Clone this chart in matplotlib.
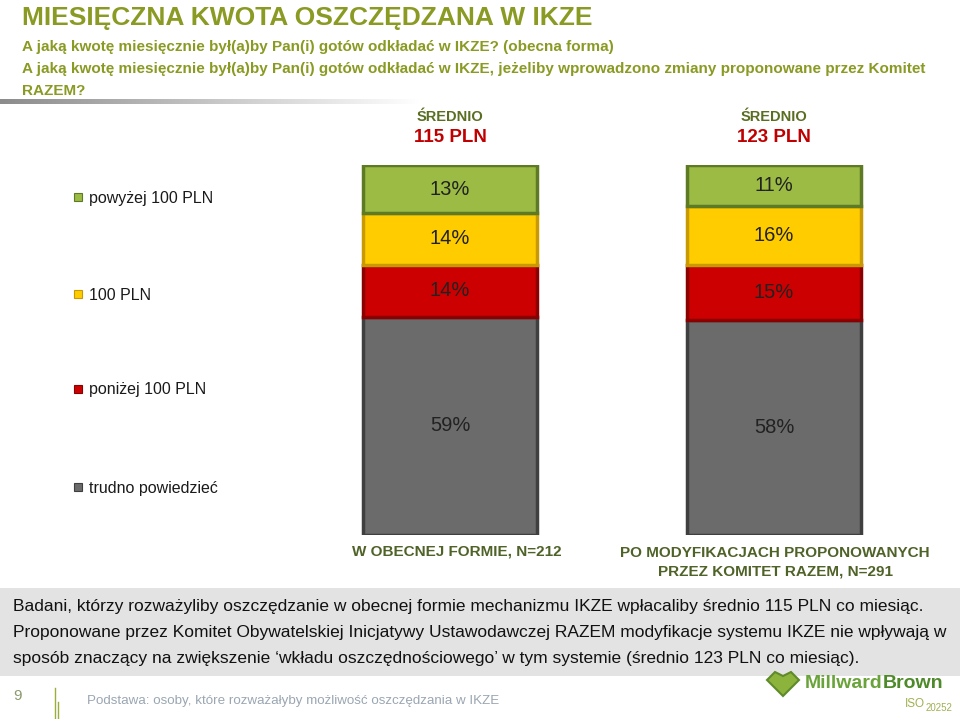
import matplotlib
matplotlib.use("Agg")
import matplotlib.pyplot as plt
import numpy as np
from matplotlib.patches import Rectangle, Polygon

plt.rcParams['font.family'] = ['Liberation Sans', 'DejaVu Sans']

# data
groups = ['W OBECNEJ FORMIE, N=212',
          'PO MODYFIKACJACH PROPONOWANYCH\nPRZEZ KOMITET RAZEM, N=291']
averages = ['115 PLN', '123 PLN']
categories = ['trudno powiedzieć', 'poniżej 100 PLN', '100 PLN', 'powyżej 100 PLN']
values = {
    'trudno powiedzieć': [59, 58],
    'poniżej 100 PLN': [14, 15],
    '100 PLN': [14, 16],
    'powyżej 100 PLN': [13, 11],
}
colors = {
    'trudno powiedzieć': ('#6b6b6b', '#3f3f3f'),
    'poniżej 100 PLN': ('#cc0000', '#8a0000'),
    '100 PLN': ('#ffcc00', '#c89a00'),
    'powyżej 100 PLN': ('#9bbb45', '#5f7a25'),
}

W, H = 960, 719
fig = plt.figure(figsize=(9.6, 7.19), dpi=100)
fig.patch.set_facecolor('white')
renderer = fig.canvas.get_renderer()

def fx(px):
    return px / W

def fy(py):
    return 1 - py / H

olive = '#8a9a22'
dark_green = '#4f6228'

# header
fig.text(fx(22), fy(18), 'MIESIĘCZNA KWOTA OSZCZĘDZANA W IKZE', fontsize=19, fontweight='bold',
         color=olive, va='center', ha='left')
subs = ['A jaką kwotę miesięcznie był(a)by Pan(i) gotów odkładać w IKZE? (obecna forma)',
        'A jaką kwotę miesięcznie był(a)by Pan(i) gotów odkładać w IKZE, jeżeliby wprowadzono zmiany proponowane przez Komitet',
        'RAZEM?']
for i, s in enumerate(subs):
    fig.text(fx(22), fy(47 + i * 22), s, fontsize=11, fontweight='bold', color=olive,
             va='center', ha='left')

# separator line fading out
line_ax = fig.add_axes([0, fy(104), fx(420), 5 / H])
line_ax.axis('off')
grad = np.linspace(0, 1, 256).reshape(1, -1)
line_ax.imshow(grad, aspect='auto', cmap=matplotlib.colors.LinearSegmentedColormap.from_list(
    'g', ['#8c8c8c', '#ffffff']), extent=[0, 1, 0, 1])

# bars
ax = fig.add_axes([fx(330), fy(535), fx(900 - 330), (535 - 165) / H])
x = [0, 1]
ax.set_xlim(-120 / 324, 1 + 126 / 324)
ax.set_ylim(0, 100)
ax.axis('off')
width = 174 / 324
bottom = [0, 0]
for cat in categories:
    vals = values[cat]
    face, edge = colors[cat]
    ax.bar(x, vals, width, bottom=bottom, color=face, edgecolor=edge, linewidth=2.5)
    for xi, v, b in zip(x, vals, bottom):
        ax.text(xi, b + v / 2, f'{v}%', ha='center', va='center', fontsize=14.5, color='#222222')
    bottom = [b + v for b, v in zip(bottom, vals)]

# averages above bars
for xc, avg in zip([450, 774], averages):
    fig.text(fx(xc), fy(117), 'ŚREDNIO', fontsize=10.5, fontweight='bold', color='#5a6e22',
             ha='center', va='center')
    fig.text(fx(xc), fy(137), avg, fontsize=13.5, fontweight='bold', color='#c00000',
             ha='center', va='center')

# group labels
fig.text(fx(457), fy(551), groups[0], fontsize=11, fontweight='bold', color=dark_green,
         ha='center', va='center')
fig.text(fx(775), fy(562), groups[1], fontsize=11, fontweight='bold', color=dark_green,
         ha='center', va='center', linespacing=1.45)

# legend
leg_y = {'powyżej 100 PLN': 198, '100 PLN': 295, 'poniżej 100 PLN': 390, 'trudno powiedzieć': 488}
for cat, yy in leg_y.items():
    face, edge = colors[cat]
    fig.patches.append(Rectangle((fx(74), fy(yy + 3)), 8 / W, 8 / H, transform=fig.transFigure,
                                 facecolor=face, edgecolor=edge, linewidth=0.8))
    fig.text(fx(89), fy(yy), cat, fontsize=11.5, color='#1a1a1a', ha='left', va='center')

# summary box
fig.patches.append(Rectangle((0, fy(676)), 1, (676 - 588) / H, transform=fig.transFigure,
                             facecolor='#e3e3e3', edgecolor='none'))
summary = ['Badani, którzy rozważyliby oszczędzanie w obecnej formie mechanizmu IKZE wpłacaliby średnio 115 PLN co miesiąc.',
           'Proponowane przez Komitet Obywatelskiej Inicjatywy Ustawodawczej RAZEM modyfikacje systemu IKZE nie wpływają w',
           'sposób znaczący na zwiększenie ‘wkładu oszczędnościowego’ w tym systemie (średnio 123 PLN co miesiąc).']
for i, s in enumerate(summary):
    fig.text(fx(13), fy(607 + i * 25.5), s, fontsize=12.5, color='#111111', ha='left', va='center')

# footer
fig.text(fx(18), fy(696), '9', fontsize=11, color='#8a9a6a', ha='center', va='center')
for lx, ly0 in [(55, 688), (58, 702)]:
    fig.lines.append(plt.Line2D([fx(lx), fx(lx)], [fy(ly0), fy(719)], transform=fig.transFigure,
                                color='#9bae3a', linewidth=1))
fig.text(fx(87), fy(701), 'Podstawa: osoby, które rozważałyby możliwość oszczędzania w IKZE',
         fontsize=9.6, color='#9aa6b2', ha='left', va='center')

# logo
heart = [(767, 680), (775, 672), (783, 676), (791, 672), (799, 680), (783, 696)]
fig.patches.append(Polygon([(fx(a), fy(b)) for a, b in heart], closed=True, transform=fig.transFigure,
                           facecolor='#8cb43c', edgecolor='#5f8a2a', linewidth=1.5))
t1 = fig.text(fx(805), fy(683), 'Millward', fontsize=14, fontweight='bold', color='#6aa33a',
              ha='left', va='center')
bb = t1.get_window_extent(renderer)
fig.text(bb.x1 / W, fy(683), 'Brown', fontsize=14, fontweight='bold', color='#4f8a2a',
         ha='left', va='center')
t3 = fig.text(fx(905), fy(704), 'ISO', fontsize=8.5, color='#a0b050', ha='left', va='center')
bb = t3.get_window_extent(renderer)
fig.text(bb.x1 / W + 1 / W, fy(708), '20252', fontsize=7, color='#a0b050', ha='left', va='center')

fig.savefig('out.png', dpi=100)
